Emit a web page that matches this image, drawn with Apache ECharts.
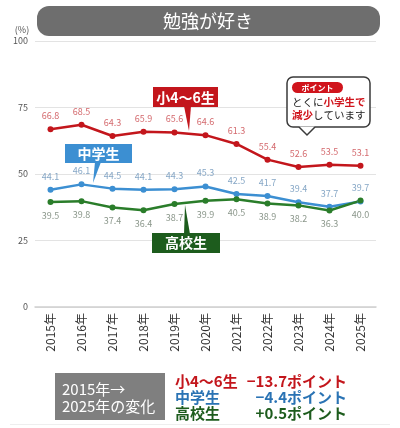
<!DOCTYPE html>
<html>
<head>
<meta charset="utf-8">
<script src="https://cdn.jsdelivr.net/npm/echarts@6/dist/echarts.min.js"></script>
<style>
html, body { margin: 0; padding: 0; background: #fff; }
#main { width: 400px; height: 428px; }
</style>
</head>
<body>
<div id="main"></div>
<script>
// 年度
var years = ['2015年', '2016年', '2017年', '2018年', '2019年', '2020年', '2021年', '2022年', '2023年', '2024年', '2025年'];
// 勉強が好き（%）
var elementary = [66.8, 68.5, 64.3, 65.9, 65.6, 64.6, 61.3, 55.4, 52.6, 53.5, 53.1];
var juniorHigh = [44.1, 46.1, 44.5, 44.1, 44.3, 45.3, 42.5, 41.7, 39.4, 37.7, 39.7];
var highSchool = [39.5, 39.8, 37.4, 36.4, 38.7, 39.9, 40.5, 38.9, 38.2, 36.3, 40.0];
var yTicks = [0, 25, 50, 75, 100];

var FONT = '"Noto Sans CJK JP", "Noto Sans", sans-serif';
var RED = '#c3161c', BLUE = '#3c8fd2', GREEN = '#2a7d2a';

function lineSeries(name, data, color, labelColor, pos) {
    return {
        name: name,
        type: 'line',
        data: data,
        symbol: 'circle',
        symbolSize: 6,
        lineStyle: { color: color, width: 2.5 },
        itemStyle: { color: color },
        label: {
            show: true,
            position: pos,
            distance: 6,
            color: labelColor,
            fontSize: 9,
            fontFamily: FONT,
            formatter: function (p) { return p.value.toFixed(1); }
        },
        z: 3
    };
}

var chart = echarts.init(document.getElementById('main'));
chart.setOption({
    animation: false,
    textStyle: { fontFamily: FONT },
    grid: { left: 35, right: 24, top: 41, bottom: 121 },
    xAxis: {
        type: 'category',
        data: years,
        boundaryGap: true,
        axisLine: { lineStyle: { color: '#cfcfcf', width: 1.5 } },
        axisTick: { show: false },
        axisLabel: { rotate: 90, color: '#333', fontSize: 12, margin: 6, fontFamily: FONT }
    },
    yAxis: {
        type: 'value',
        min: yTicks[0],
        max: yTicks[yTicks.length - 1],
        interval: 25,
        axisLine: { show: false },
        axisTick: { show: false },
        axisLabel: { color: '#555', fontSize: 9, margin: 7 },
        splitLine: { lineStyle: { color: '#e3e3e3', width: 1.2 } }
    },
    series: [
        lineSeries('小4～6生', elementary, RED, '#d46a6e', 'top'),
        lineSeries('中学生', juniorHigh, BLUE, '#86a7c6', 'top'),
        lineSeries('高校生', highSchool, GREEN, '#8b978b', 'bottom')
    ],
    graphic: [
        // タイトル
        { type: 'rect', shape: { x: 37, y: 6, width: 343, height: 30, r: 12 }, style: { fill: '#6e6e6e' } },
        { type: 'text', x: 208, y: 21, style: { text: '勉強が好き', fill: '#fff', font: '18px ' + FONT, align: 'center', verticalAlign: 'middle' } },
        { type: 'text', x: 22, y: 30, style: { text: '(%)', fill: '#555', font: '9px ' + FONT, align: 'center', verticalAlign: 'middle' } },

        // 小4～6生
        { type: 'polygon', shape: { points: [[184, 106], [191, 106], [189, 131]] }, style: { fill: RED }, z: 10 },
        { type: 'rect', shape: { x: 153, y: 87, width: 65, height: 20 }, style: { fill: RED }, z: 10 },
        { type: 'text', x: 185.5, y: 97.5, z: 11, style: { text: '小4～6生', fill: '#fff', font: 'bold 14px ' + FONT, align: 'center', verticalAlign: 'middle' } },

        // 中学生
        { type: 'polygon', shape: { points: [[95, 162], [101, 162], [93, 183]] }, style: { fill: BLUE }, z: 10 },
        { type: 'rect', shape: { x: 65, y: 144, width: 67, height: 19 }, style: { fill: BLUE }, z: 10 },
        { type: 'text', x: 98.5, y: 153.5, z: 11, style: { text: '中学生', fill: '#fff', font: 'bold 14px ' + FONT, align: 'center', verticalAlign: 'middle' } },

        // 高校生
        { type: 'polygon', shape: { points: [[184, 234], [190, 234], [185, 205]] }, style: { fill: '#1d5c1d' }, z: 10 },
        { type: 'rect', shape: { x: 152, y: 233, width: 68, height: 20 }, style: { fill: '#1d5c1d' }, z: 10 },
        { type: 'text', x: 186, y: 243, z: 11, style: { text: '高校生', fill: '#fff', font: 'bold 14px ' + FONT, align: 'center', verticalAlign: 'middle' } },

        // ポイント吹き出し
        { type: 'rect', shape: { x: 287, y: 77, width: 83, height: 50, r: 6 }, style: { fill: '#fff', stroke: '#3a3a3a', lineWidth: 1.5 }, z: 10 },
        { type: 'polygon', shape: { points: [[299, 126.5], [315, 126.5], [307, 135]] }, style: { fill: '#fff' }, z: 11 },
        { type: 'polyline', shape: { points: [[299, 127], [307, 135], [315, 127]] }, style: { stroke: '#3a3a3a', lineWidth: 1.5, fill: null }, z: 11 },
        { type: 'rect', shape: { x: 292, y: 82, width: 51, height: 11, r: 5.5 }, style: { fill: '#d0141c' }, z: 11 },
        { type: 'text', x: 317.5, y: 87.5, z: 12, style: { text: 'ポイント', fill: '#fff', font: 'bold 8px ' + FONT, align: 'center', verticalAlign: 'middle' } },
        {
            type: 'text', x: 292, y: 102, z: 12,
            style: {
                text: '{k|とくに}{r|小学生で}',
                verticalAlign: 'middle',
                rich: {
                    k: { fill: '#222', font: '10.5px ' + FONT },
                    r: { fill: '#d0141c', font: 'bold 10.5px ' + FONT }
                }
            }
        },
        {
            type: 'text', x: 292, y: 115, z: 12,
            style: {
                text: '{r|減少}{k|しています}',
                verticalAlign: 'middle',
                rich: {
                    k: { fill: '#222', font: '10.5px ' + FONT },
                    r: { fill: '#d0141c', font: 'bold 10.5px ' + FONT }
                }
            }
        },

        // 2015年→2025年の変化
        { type: 'rect', shape: { x: 55, y: 373, width: 110, height: 47 }, style: { fill: '#7f7f7f' } },
        { type: 'text', x: 62, y: 389, style: { text: '2015年→', fill: '#fff', font: '15px ' + FONT, verticalAlign: 'middle' } },
        { type: 'text', x: 62, y: 406, style: { text: '2025年の変化', fill: '#fff', font: '15px ' + FONT, verticalAlign: 'middle' } },
        { type: 'text', x: 175, y: 381, style: { text: '小4～6生', fill: RED, font: 'bold 15px ' + FONT, verticalAlign: 'middle' } },
        { type: 'text', x: 347, y: 381, style: { text: '−13.7ポイント', fill: RED, font: 'bold 15px ' + FONT, align: 'right', verticalAlign: 'middle' } },
        { type: 'text', x: 175, y: 397, style: { text: '中学生', fill: '#2a73b4', font: 'bold 15px ' + FONT, verticalAlign: 'middle' } },
        { type: 'text', x: 347, y: 397, style: { text: '−4.4ポイント', fill: '#2a73b4', font: 'bold 15px ' + FONT, align: 'right', verticalAlign: 'middle' } },
        { type: 'text', x: 175, y: 413, style: { text: '高校生', fill: '#1d5c1d', font: 'bold 15px ' + FONT, verticalAlign: 'middle' } },
        { type: 'text', x: 347, y: 413, style: { text: '+0.5ポイント', fill: '#1d5c1d', font: 'bold 15px ' + FONT, align: 'right', verticalAlign: 'middle' } },
        { type: 'rect', shape: { x: 10, y: 424, width: 380, height: 1 }, style: { fill: '#eeeeee' } }
    ]
});
</script>
</body>
</html>
